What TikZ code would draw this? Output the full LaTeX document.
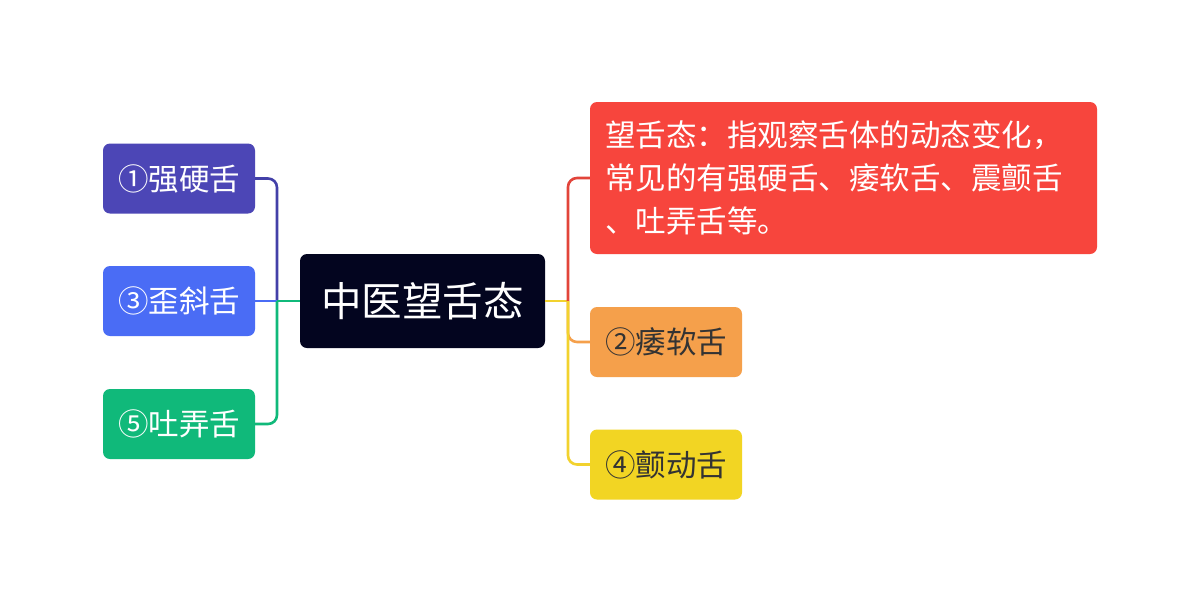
\documentclass[tikz,border=0pt]{standalone}
\usepackage{fontspec}
\setmainfont{Noto Sans CJK SC}
\definecolor{rootc}{HTML}{03051F}
\definecolor{c1}{HTML}{4C46B6}
\definecolor{c1l}{HTML}{4340A8}
\definecolor{c3}{HTML}{4A6CF5}
\definecolor{c5}{HTML}{10B97A}
\definecolor{cr}{HTML}{F7453D}
\definecolor{crl}{HTML}{E2443A}
\definecolor{c2}{HTML}{F5A04B}
\definecolor{c4}{HTML}{F2D523}
\definecolor{c4l}{HTML}{F2D22E}
\definecolor{dtext}{HTML}{333333}
\begin{document}
\begin{tikzpicture}[x=1pt,y=-1pt,
  box/.style={rounded corners=7pt, inner sep=0pt, minimum width=152pt, minimum height=70pt,
    font=\fontsize{30.5}{36}\selectfont},
  conn/.style={line width=2.6pt, rounded corners=9pt}]
\useasboundingbox (0,0) rectangle (1200,603);
\fill[white] (0,0) rectangle (1200,603);

\node[box, fill=rootc, text=white, minimum width=245pt, minimum height=94pt,
  font=\fontsize{40.5}{46}\selectfont] (root) at (422.5,301) {中医望舌态};

\node[box, fill=c1, text=white] (n1) at (179,178.5) {①强硬舌};
\node[box, fill=c3, text=white] (n3) at (179,301) {③歪斜舌};
\node[box, fill=c5, text=white] (n5) at (179,424) {⑤吐弄舌};

\node[box, fill=cr, text=white, minimum width=507pt, minimum height=152pt,
  text width=477pt, align=left, font=\fontsize{30.5}{43}\selectfont] (nr) at (843.5,178)
  {望舌态：指观察舌体的动态变化，\\常见的有强硬舌、痿软舌、震颤舌\\、吐弄舌等。};
\node[box, fill=c2, text=dtext] (n2) at (666,342) {②痿软舌};
\node[box, fill=c4, text=dtext] (n4) at (666,464.5) {④颤动舌};

\coordinate (lb) at (277,301);
\coordinate (rb) at (568,301);

\draw[conn, c1l] (n1.east) -| (lb);
\draw[conn, c3] (n3.east) -- (lb);
\draw[conn, c5] (n5.east) -| (lb);
\draw[conn, c5] (lb) -- (root.west);

\draw[conn, c4l] (root.east) -- (rb);
\draw[conn, crl] (rb) |- (nr.west);
\draw[conn, c2] (rb) |- (n2.west);
\draw[conn, c4l] (rb) |- (n4.west);
\end{tikzpicture}
\end{document}
